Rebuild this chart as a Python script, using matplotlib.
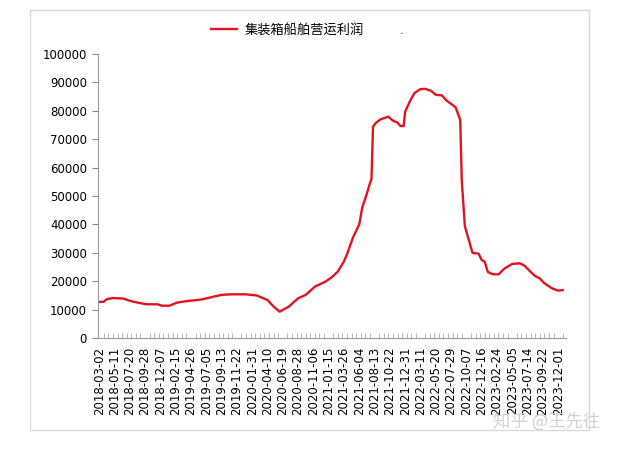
import matplotlib
matplotlib.use("Agg")
import matplotlib.pyplot as plt
from matplotlib.patches import Rectangle

# 周序号（自 2018-03-02 起）与对应利润值
weeks = [0, 3, 5, 9, 16, 20, 25, 31, 38, 41, 46, 51, 57, 64, 68, 75, 80, 86,
         96, 103, 110, 114, 118, 124, 130, 135, 141, 148, 152, 156, 160, 162,
         166, 170, 172, 175, 177, 178, 179, 181, 184, 189, 192, 195, 197, 199,
         200, 203, 206, 210, 213, 217, 220, 224, 227, 231, 233, 236, 237, 239,
         242, 244, 248, 250, 252, 254, 257, 261, 265, 270, 275, 278, 282, 285,
         288, 291, 296, 300, 303]
profit = [12700, 12800, 13700, 14100, 13900, 13100, 12500, 11900, 11900, 11400,
          11400, 12500, 13000, 13400, 13700, 14600, 15200, 15400, 15400, 15000,
          13400, 11100, 9300, 11100, 14000, 15200, 18100, 19900, 21400, 23400,
          27000, 29500, 35500, 40000, 46000, 50900, 54500, 56000, 74400, 75800,
          77000, 77900, 76500, 75800, 74600, 74600, 79700, 83200, 86200, 87600,
          87700, 87000, 85600, 85400, 83600, 82000, 81200, 76800, 55600, 39500,
          33800, 30000, 29700, 27500, 26900, 23300, 22500, 22400, 24500, 26100,
          26300, 25500, 23300, 21800, 21000, 19300, 17500, 16700, 16900]

date_labels = ["2018-03-02", "2018-05-11", "2018-07-20", "2018-09-28", "2018-12-07",
               "2019-02-15", "2019-04-26", "2019-07-05", "2019-09-13", "2019-11-22",
               "2020-01-31", "2020-04-10", "2020-06-19", "2020-08-28", "2020-11-06",
               "2021-01-15", "2021-03-26", "2021-06-04", "2021-08-13", "2021-10-22",
               "2021-12-31", "2022-03-11", "2022-05-20", "2022-07-29", "2022-10-07",
               "2022-12-16", "2023-02-24", "2023-05-05", "2023-07-14", "2023-09-22",
               "2023-12-01"]
label_pos = [i * 10 for i in range(len(date_labels))]

plt.rcParams['font.family'] = ['DejaVu Sans', 'Noto Sans CJK SC']

fig = plt.figure(figsize=(6.17, 4.49), dpi=100)
ax = fig.add_axes([0.159, 0.247, 0.758, 0.633])

# 外框
fig.patches.append(Rectangle((30 / 617, 1 - 430 / 449), 559 / 617, 420 / 449,
                             transform=fig.transFigure, fill=False,
                             edgecolor='#d9d9d9', linewidth=1))

line, = ax.plot(weeks, profit, color='#e0141e', linewidth=1.7, label='集装箱船舶营运利润')

ax.set_xlim(-0.7, 305)
ax.set_ylim(0, 100000)
ax.set_yticks(range(0, 100001, 10000))
ax.set_xticks(label_pos)
ax.set_xticklabels(date_labels, rotation=90, fontsize=8.5)
ax.set_xticks(range(0, 305, 3), minor=True)
ax.tick_params(axis='y', labelsize=8.5, length=4, color='#888888', pad=4)
ax.tick_params(axis='x', which='major', length=0, pad=6)
ax.tick_params(axis='x', which='minor', direction='in', length=3.5, color='#aaaaaa')

for s in ['top', 'right']:
    ax.spines[s].set_visible(False)
for s in ['left', 'bottom']:
    ax.spines[s].set_color('#999999')
    ax.spines[s].set_linewidth(0.8)

fig.legend(handles=[line], loc='center', bbox_to_anchor=(0.466, 0.933),
           frameon=False, handlelength=2.0, handletextpad=0.6,
           prop={'family': ['Noto Sans CJK SC'], 'size': 9.5})
fig.text(402 / 617, 1 - 31 / 449, '.', fontsize=8, ha='center', va='center')

fig.text(0.973, 1 - 422 / 449, '知乎 @王先往', fontsize=12.5, color='#d0d0d0',
         ha='right', va='center', family=['Noto Sans CJK SC', 'DejaVu Sans'])

fig.savefig('out.png', dpi=100)
